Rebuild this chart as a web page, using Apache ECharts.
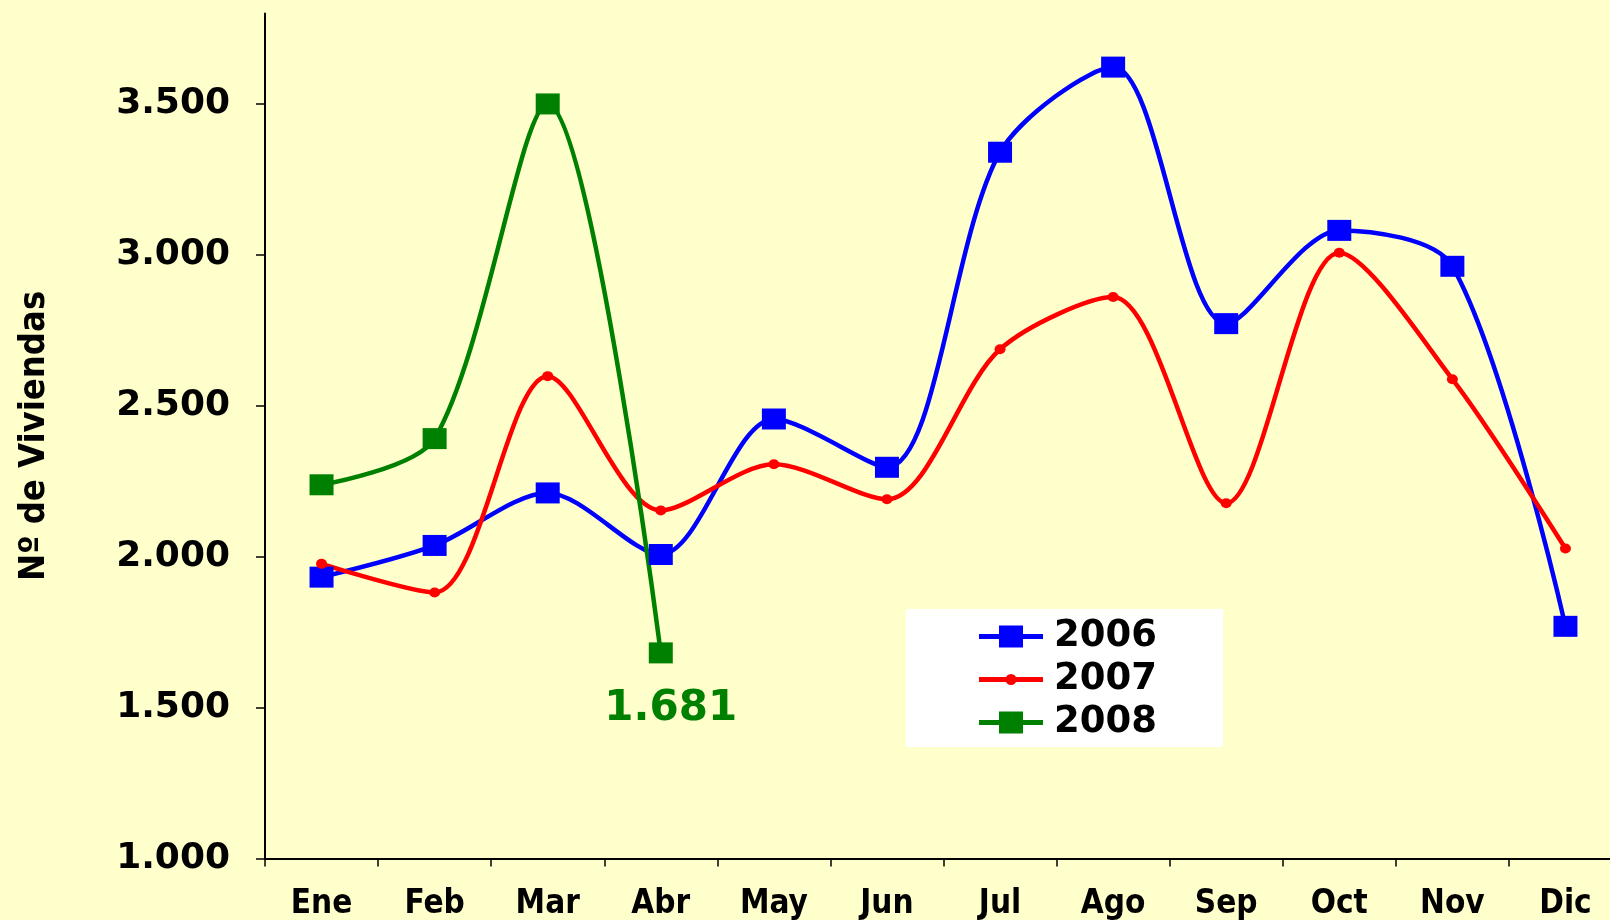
<!DOCTYPE html>
<html>
<head>
<meta charset="utf-8">
<script src="https://cdn.jsdelivr.net/npm/echarts@6/dist/echarts.min.js"></script>
<style>
  html, body { margin: 0; padding: 0; background: #ffffcc; overflow: hidden; }
  #chart { width: 1622px; height: 920px; }
</style>
</head>
<body>
<div id="chart"></div>
<script>
// meses
let months = ['Ene', 'Feb', 'Mar', 'Abr', 'May', 'Jun', 'Jul', 'Ago', 'Sep', 'Oct', 'Nov', 'Dic'];
let values2006 = [1932, 2037, 2211, 2007, 2456, 2296, 3340, 3622, 2772, 3081, 2962, 1769];
let values2007 = [1976, 1881, 2598, 2153, 2306, 2190, 2687, 2860, 2177, 3007, 2588, 2027];
let values2008 = [2238, 2391, 3500, 1681];
let yTicks = [1000, 1500, 2000, 2500, 3000, 3500];

let backColor = '#ffffcc';
let squareIcon = 'path://M0,8.5h64v5h-64z M20,0h24v22h-24z';
let dotIcon = 'path://M0,8.5h64v5h-64z M26.5,11a5.5,5.5 0 1,1 11,0a5.5,5.5 0 1,1 -11,0z';

function miles(v) {
    return String(v).replace(/\B(?=(\d{3})+(?!\d))/g, '.');
}

// el grafico es algo mas ancho que la ventana: el eje X se corta por la derecha
let chart = echarts.init(document.getElementById('chart'));

// el ultimo punto de 2008 lleva su valor debajo
let data2008 = values2008.map(function (v, i) {
    if (i !== values2008.length - 1) return v;
    return {
        value: v,
        label: {
            show: true,
            position: 'inside',
            offset: [10, 56],
            formatter: function (p) { return miles(p.value); },
            color: '#008000',
            fontFamily: 'DejaVu Sans',
            fontWeight: 'bold',
            fontSize: 42
        }
    };
});

let option = {
    backgroundColor: backColor,
    animation: false,
    grid: {
        left: 265,
        right: 0,
        top: 13.4,
        bottom: 61.6,
        outerBoundsMode: 'none'
    },
    legend: {
        orient: 'vertical',
        left: 906,
        top: 609,
        padding: [9, 66, 6, 73],
        backgroundColor: '#ffffff',
        itemWidth: 64,
        itemHeight: 22,
        itemGap: 6,
        data: [
            { name: '2006', icon: squareIcon },
            { name: '2007', icon: dotIcon },
            { name: '2008', icon: squareIcon }
        ],
        textStyle: {
            color: '#000',
            fontFamily: 'DejaVu Sans',
            fontWeight: 'bold',
            fontSize: 37,
            lineHeight: 36,
            padding: [0, 0, 0, 6]
        }
    },
    xAxis: {
        type: 'category',
        data: months,
        axisLine: { lineStyle: { color: '#000', width: 2 } },
        axisTick: { show: true, length: 8, lineStyle: { color: '#000', width: 1.5 } },
        axisLabel: {
            margin: 30,
            color: '#000',
            fontFamily: 'DejaVu Sans Condensed',
            fontWeight: 'bold',
            fontSize: 33
        }
    },
    yAxis: {
        type: 'value',
        min: 1000,
        max: 3800,
        interval: 500,
        name: 'Nº de Viviendas',
        nameLocation: 'middle',
        nameRotate: 90,
        nameGap: 212,
        nameTextStyle: {
            color: '#000',
            fontFamily: 'DejaVu Sans Condensed',
            fontWeight: 'bold',
            fontSize: 36
        },
        splitLine: { show: false },
        axisLine: { show: true, lineStyle: { color: '#000', width: 2 } },
        axisTick: { show: true, length: 9, customValues: yTicks, lineStyle: { color: '#000', width: 1.5 } },
        axisLabel: {
            margin: 35,
            customValues: yTicks,
            formatter: miles,
            color: '#000',
            fontFamily: 'DejaVu Sans',
            fontWeight: 'bold',
            fontSize: 36
        }
    },
    series: [
        {
            name: '2006',
            type: 'line',
            data: values2006,
            smooth: 0.3,
            symbol: 'rect',
            symbolSize: [24, 21],
            color: '#0000ff',
            lineStyle: { width: 4.5, color: '#0000ff' },
            itemStyle: { color: '#0000ff' }
        },
        {
            name: '2007',
            type: 'line',
            data: values2007,
            smooth: 0.3,
            symbol: 'circle',
            symbolSize: [11, 10],
            color: '#ff0000',
            lineStyle: { width: 4.5, color: '#ff0000' },
            itemStyle: { color: '#ff0000' }
        },
        {
            name: '2008',
            type: 'line',
            data: data2008,
            smooth: 0.3,
            symbol: 'rect',
            symbolSize: [24, 21],
            color: '#008000',
            lineStyle: { width: 4.5, color: '#008000' },
            itemStyle: { color: '#008000' }
        }
    ]
};

chart.setOption(option);
</script>
</body>
</html>
